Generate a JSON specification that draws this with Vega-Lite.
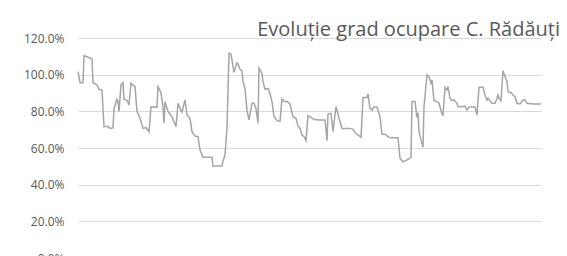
{
  "$schema": "https://vega.github.io/schema/vega-lite/v6.json",
  "width": 463,
  "height": 220,
  "autosize": {"type": "none"},
  "padding": {"left": 78, "top": 38, "right": 26, "bottom": 0},
  "background": "white",
  "title": {
    "text": "Evoluție grad ocupare C. Rădăuți",
    "anchor": "end",
    "frame": "group",
    "font": "Open Sans",
    "fontSize": 20,
    "fontWeight": "normal",
    "color": "#595959",
    "baseline": "alphabetic",
    "offset": 0,
    "dx": 19,
    "dy": 24
  },
  "data": {
    "values": [
      {"day": 0, "rate": 1.016}, {"day": 2, "rate": 0.956}, {"day": 5, "rate": 0.956}, {"day": 6, "rate": 1.104},
      {"day": 10, "rate": 1.095}, {"day": 14, "rate": 1.086}, {"day": 15, "rate": 0.956}, {"day": 19, "rate": 0.944},
      {"day": 21, "rate": 0.92}, {"day": 24, "rate": 0.915}, {"day": 26, "rate": 0.716}, {"day": 30, "rate": 0.718},
      {"day": 32, "rate": 0.707}, {"day": 35, "rate": 0.71}, {"day": 36, "rate": 0.816}, {"day": 39, "rate": 0.866},
      {"day": 40, "rate": 0.853}, {"day": 41, "rate": 0.8}, {"day": 43, "rate": 0.944}, {"day": 45, "rate": 0.956},
      {"day": 46, "rate": 0.866}, {"day": 49, "rate": 0.86}, {"day": 51, "rate": 0.835}, {"day": 53, "rate": 0.953},
      {"day": 57, "rate": 0.935}, {"day": 59, "rate": 0.8}, {"day": 62, "rate": 0.762}, {"day": 65, "rate": 0.707},
      {"day": 68, "rate": 0.712}, {"day": 71, "rate": 0.689}, {"day": 73, "rate": 0.825}, {"day": 79, "rate": 0.823},
      {"day": 80, "rate": 0.935}, {"day": 83, "rate": 0.902}, {"day": 85, "rate": 0.825}, {"day": 86, "rate": 0.735},
      {"day": 87, "rate": 0.853}, {"day": 90, "rate": 0.8}, {"day": 94, "rate": 0.771}, {"day": 98, "rate": 0.716},
      {"day": 100, "rate": 0.844}, {"day": 102, "rate": 0.816}, {"day": 104, "rate": 0.796}, {"day": 107, "rate": 0.862},
      {"day": 109, "rate": 0.78}, {"day": 112, "rate": 0.762}, {"day": 114, "rate": 0.689}, {"day": 117, "rate": 0.665},
      {"day": 120, "rate": 0.662}, {"day": 122, "rate": 0.589}, {"day": 125, "rate": 0.549}, {"day": 134, "rate": 0.549},
      {"day": 135, "rate": 0.502}, {"day": 144, "rate": 0.502}, {"day": 145, "rate": 0.53}, {"day": 147, "rate": 0.56},
      {"day": 149, "rate": 0.713}, {"day": 151, "rate": 1.117}, {"day": 153, "rate": 1.113}, {"day": 156, "rate": 1.013},
      {"day": 159, "rate": 1.065}, {"day": 160, "rate": 1.06}, {"day": 162, "rate": 1.029}, {"day": 164, "rate": 1.02},
      {"day": 165, "rate": 0.962}, {"day": 167, "rate": 0.925}, {"day": 169, "rate": 0.804}, {"day": 171, "rate": 0.753},
      {"day": 174, "rate": 0.844}, {"day": 176, "rate": 0.844}, {"day": 178, "rate": 0.816}, {"day": 180, "rate": 0.735},
      {"day": 181, "rate": 1.035}, {"day": 184, "rate": 1.007}, {"day": 185, "rate": 0.962}, {"day": 187, "rate": 0.92},
      {"day": 190, "rate": 0.925}, {"day": 192, "rate": 0.898}, {"day": 194, "rate": 0.853}, {"day": 196, "rate": 0.771},
      {"day": 199, "rate": 0.749}, {"day": 202, "rate": 0.744}, {"day": 204, "rate": 0.867}, {"day": 206, "rate": 0.853},
      {"day": 209, "rate": 0.853}, {"day": 212, "rate": 0.84}, {"day": 215, "rate": 0.771}, {"day": 218, "rate": 0.762},
      {"day": 220, "rate": 0.72}, {"day": 222, "rate": 0.707}, {"day": 224, "rate": 0.671}, {"day": 226, "rate": 0.662},
      {"day": 228, "rate": 0.64}, {"day": 230, "rate": 0.775}, {"day": 232, "rate": 0.771}, {"day": 236, "rate": 0.756},
      {"day": 242, "rate": 0.753}, {"day": 247, "rate": 0.753}, {"day": 249, "rate": 0.64}, {"day": 250, "rate": 0.785},
      {"day": 253, "rate": 0.789}, {"day": 255, "rate": 0.689}, {"day": 258, "rate": 0.825}, {"day": 259, "rate": 0.807},
      {"day": 261, "rate": 0.762}, {"day": 264, "rate": 0.707}, {"day": 272, "rate": 0.707}, {"day": 275, "rate": 0.702},
      {"day": 277, "rate": 0.684}, {"day": 280, "rate": 0.671}, {"day": 283, "rate": 0.658}, {"day": 285, "rate": 0.876},
      {"day": 289, "rate": 0.876}, {"day": 290, "rate": 0.895}, {"day": 292, "rate": 0.816}, {"day": 294, "rate": 0.807},
      {"day": 296, "rate": 0.823}, {"day": 299, "rate": 0.823}, {"day": 302, "rate": 0.771}, {"day": 304, "rate": 0.675},
      {"day": 307, "rate": 0.675}, {"day": 310, "rate": 0.662}, {"day": 312, "rate": 0.656}, {"day": 320, "rate": 0.656},
      {"day": 322, "rate": 0.544}, {"day": 325, "rate": 0.525}, {"day": 329, "rate": 0.535}, {"day": 333, "rate": 0.549},
      {"day": 334, "rate": 0.853}, {"day": 337, "rate": 0.853}, {"day": 339, "rate": 0.767}, {"day": 340, "rate": 0.792},
      {"day": 341, "rate": 0.689}, {"day": 343, "rate": 0.644}, {"day": 345, "rate": 0.604}, {"day": 346, "rate": 0.825},
      {"day": 349, "rate": 0.998}, {"day": 351, "rate": 0.989}, {"day": 353, "rate": 0.953}, {"day": 354, "rate": 0.971},
      {"day": 356, "rate": 0.858}, {"day": 359, "rate": 0.853}, {"day": 361, "rate": 0.844}, {"day": 364, "rate": 0.785},
      {"day": 365, "rate": 0.78}, {"day": 367, "rate": 0.931}, {"day": 369, "rate": 0.917}, {"day": 370, "rate": 0.935},
      {"day": 372, "rate": 0.871}, {"day": 374, "rate": 0.858}, {"day": 376, "rate": 0.862}, {"day": 379, "rate": 0.844},
      {"day": 380, "rate": 0.825}, {"day": 384, "rate": 0.825}, {"day": 387, "rate": 0.828}, {"day": 389, "rate": 0.807},
      {"day": 391, "rate": 0.823}, {"day": 397, "rate": 0.823}, {"day": 399, "rate": 0.78}, {"day": 401, "rate": 0.931},
      {"day": 405, "rate": 0.931}, {"day": 407, "rate": 0.889}, {"day": 409, "rate": 0.862}, {"day": 410, "rate": 0.871},
      {"day": 412, "rate": 0.858}, {"day": 414, "rate": 0.844}, {"day": 417, "rate": 0.844}, {"day": 419, "rate": 0.871},
      {"day": 420, "rate": 0.889}, {"day": 421, "rate": 0.871}, {"day": 423, "rate": 0.858}, {"day": 425, "rate": 1.022},
      {"day": 426, "rate": 1.007}, {"day": 428, "rate": 0.975}, {"day": 429, "rate": 0.962}, {"day": 430, "rate": 0.907},
      {"day": 433, "rate": 0.902}, {"day": 435, "rate": 0.889}, {"day": 437, "rate": 0.88}, {"day": 439, "rate": 0.844},
      {"day": 442, "rate": 0.84}, {"day": 445, "rate": 0.862}, {"day": 447, "rate": 0.862}, {"day": 449, "rate": 0.844},
      {"day": 455, "rate": 0.84}, {"day": 463, "rate": 0.84}
    ]
  },
  "mark": {"type": "line", "color": "#a5a5a5", "strokeWidth": 1.5, "interpolate": "linear"},
  "encoding": {
    "x": {
      "field": "day",
      "type": "quantitative",
      "scale": {"domain": [0, 463], "nice": false, "zero": false},
      "axis": null
    },
    "y": {
      "field": "rate",
      "type": "quantitative",
      "scale": {"domain": [0, 1.2], "nice": false},
      "axis": {
        "values": [0, 0.2, 0.4, 0.6, 0.8, 1.0, 1.2],
        "format": ".1%",
        "title": null,
        "domain": false,
        "ticks": false,
        "labelPadding": 14,
        "labelFont": "Open Sans",
        "labelFontSize": 12,
        "labelColor": "#595959",
        "grid": true,
        "gridColor": "#d9d9d9",
        "gridWidth": 1
      }
    }
  },
  "config": {"view": {"stroke": null}}
}
